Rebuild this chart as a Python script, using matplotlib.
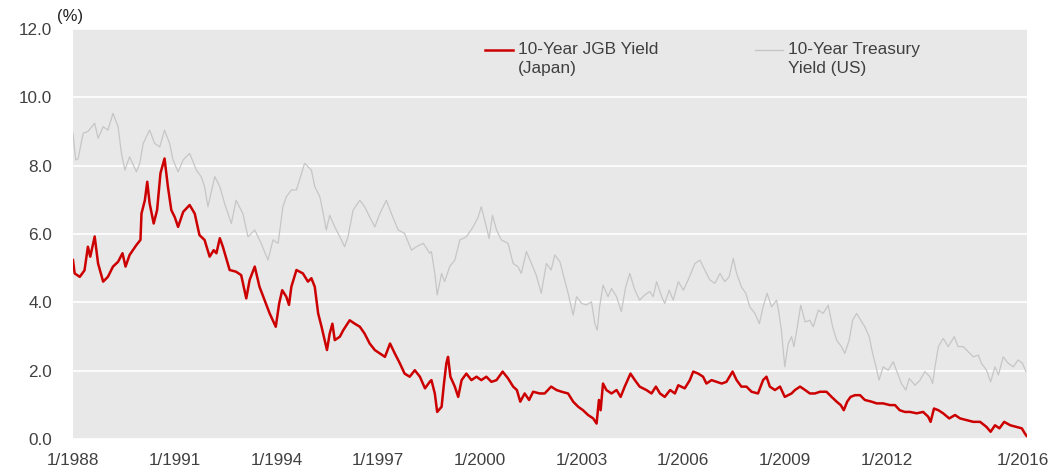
import matplotlib
matplotlib.use('Agg')
import matplotlib.pyplot as plt

# ── data (decimal year, yield in %) ──
jgb_year = [
    1988.00, 1988.05, 1988.20, 1988.34, 1988.44, 1988.51, 1988.64, 1988.74, 1988.89,
    1989.03, 1989.18, 1989.33, 1989.46, 1989.55, 1989.67, 1989.87, 1989.99,
    1990.02, 1990.12, 1990.19, 1990.26, 1990.38, 1990.48, 1990.58, 1990.70, 1990.80, 1990.90,
    1991.00, 1991.10, 1991.25, 1991.44, 1991.59, 1991.73, 1991.88,
    1992.03, 1992.15, 1992.23, 1992.33, 1992.42, 1992.62, 1992.81, 1992.96,
    1993.11, 1993.21, 1993.36, 1993.50, 1993.65, 1993.80, 1993.98,
    1994.08, 1994.17, 1994.29, 1994.37, 1994.44, 1994.59, 1994.78, 1994.93,
    1995.03, 1995.13, 1995.23, 1995.33, 1995.42, 1995.49, 1995.57, 1995.65, 1995.72, 1995.87, 1995.97,
    1996.16, 1996.31, 1996.46, 1996.60, 1996.75, 1996.90,
    1997.05, 1997.20, 1997.35, 1997.49, 1997.64, 1997.78, 1997.93,
    1998.08, 1998.23, 1998.38, 1998.52, 1998.57, 1998.67, 1998.74, 1998.87, 1998.94,
    1999.01, 1999.06, 1999.13, 1999.26, 1999.36, 1999.46, 1999.60, 1999.75, 1999.90,
    2000.04, 2000.19, 2000.34, 2000.49, 2000.67, 2000.83, 2000.98,
    2001.09, 2001.19, 2001.32, 2001.45, 2001.57, 2001.76, 2001.91,
    2002.10, 2002.26, 2002.41, 2002.60, 2002.75, 2002.90,
    2003.04, 2003.19, 2003.34, 2003.44, 2003.51, 2003.56, 2003.63, 2003.73, 2003.88,
    2004.03, 2004.15, 2004.27, 2004.44, 2004.57, 2004.71, 2004.91,
    2005.06, 2005.19, 2005.31, 2005.45, 2005.61, 2005.75, 2005.85,
    2006.04, 2006.19, 2006.29, 2006.44, 2006.58, 2006.68, 2006.83, 2006.98,
    2007.13, 2007.27, 2007.45, 2007.57, 2007.71, 2007.86,
    2008.01, 2008.20, 2008.35, 2008.45, 2008.55, 2008.70, 2008.85, 2008.99,
    2009.19, 2009.29, 2009.44, 2009.59, 2009.73, 2009.88,
    2010.03, 2010.22, 2010.37, 2010.52, 2010.64, 2010.73, 2010.83, 2010.93,
    2011.06, 2011.21, 2011.35, 2011.55, 2011.70, 2011.89,
    2012.09, 2012.24, 2012.38, 2012.53, 2012.68, 2012.88,
    2013.07, 2013.22, 2013.29, 2013.39, 2013.52, 2013.66, 2013.84,
    2014.01, 2014.16, 2014.35, 2014.55, 2014.75, 2014.94,
    2015.06, 2015.19, 2015.32, 2015.46, 2015.64, 2015.83, 2015.98,
    2016.07, 2016.12,
]
jgb_yield = [
    5.24, 4.85, 4.75, 4.94, 5.63, 5.34, 5.93, 5.14, 4.61,
    4.75, 5.05, 5.19, 5.44, 5.05, 5.39, 5.68, 5.83,
    6.60, 6.99, 7.53, 6.90, 6.31, 6.70, 7.78, 8.21, 7.38, 6.70,
    6.50, 6.21, 6.65, 6.85, 6.60, 5.97, 5.83,
    5.34, 5.53, 5.44, 5.88, 5.63, 4.95, 4.90, 4.80,
    4.12, 4.66, 5.05, 4.46, 4.07, 3.68, 3.29,
    3.97, 4.36, 4.17, 3.93, 4.46, 4.95, 4.85, 4.61,
    4.71, 4.46, 3.68, 3.29, 2.90, 2.61, 3.09, 3.38, 2.90, 3.00, 3.19,
    3.48, 3.38, 3.29, 3.09, 2.80, 2.61,
    2.51, 2.41, 2.80, 2.51, 2.22, 1.92, 1.83,
    2.02, 1.83, 1.49, 1.68, 1.73, 1.34, 0.80, 0.95, 1.63,
    2.22, 2.41, 1.83, 1.54, 1.24, 1.73, 1.92, 1.73, 1.83,
    1.73, 1.83, 1.68, 1.73, 1.98, 1.78, 1.54,
    1.44, 1.10, 1.34, 1.15, 1.39, 1.34, 1.34,
    1.54, 1.44, 1.39, 1.34, 1.10, 0.95,
    0.85, 0.71, 0.61, 0.46, 1.15, 0.85, 1.63, 1.44, 1.34,
    1.44, 1.24, 1.54, 1.92, 1.73, 1.54, 1.44,
    1.34, 1.54, 1.34, 1.24, 1.44, 1.34, 1.58,
    1.49, 1.73, 1.98, 1.92, 1.83, 1.63, 1.73, 1.68,
    1.63, 1.68, 1.98, 1.73, 1.54, 1.54,
    1.39, 1.34, 1.73, 1.83, 1.54, 1.44, 1.54, 1.24,
    1.34, 1.44, 1.54, 1.44, 1.34, 1.34,
    1.39, 1.39, 1.24, 1.10, 1.00, 0.85, 1.10, 1.24,
    1.29, 1.29, 1.15, 1.10, 1.05, 1.05,
    1.00, 1.00, 0.85, 0.80, 0.80, 0.76,
    0.80, 0.66, 0.51, 0.90, 0.85, 0.76, 0.61,
    0.71, 0.61, 0.56, 0.51, 0.51, 0.36,
    0.22, 0.41, 0.32, 0.51, 0.41, 0.36, 0.32,
    0.17, 0.10,
]

ust_year = [
    1988.00, 1988.08, 1988.15, 1988.30, 1988.44, 1988.64, 1988.74, 1988.89,
    1989.03, 1989.18, 1989.33, 1989.43, 1989.53, 1989.67, 1989.87, 1989.97,
    1990.07, 1990.26, 1990.41, 1990.56, 1990.70, 1990.85, 1990.95,
    1991.10, 1991.25, 1991.44, 1991.64, 1991.78, 1991.88, 1991.98,
    1992.18, 1992.33, 1992.47, 1992.67, 1992.81,
    1993.01, 1993.16, 1993.36, 1993.55, 1993.75, 1993.90,
    1994.05, 1994.19, 1994.29, 1994.44, 1994.59, 1994.68, 1994.83,
    1995.03, 1995.13, 1995.28, 1995.38, 1995.47, 1995.57, 1995.72, 1995.87,
    1996.01, 1996.11, 1996.26, 1996.46, 1996.60, 1996.75, 1996.90,
    1997.05, 1997.24, 1997.39, 1997.59, 1997.78, 1997.98,
    1998.13, 1998.33, 1998.52, 1998.57, 1998.67, 1998.74, 1998.87, 1998.96,
    1999.11, 1999.26, 1999.41, 1999.60, 1999.80, 1999.95,
    2000.04, 2000.19, 2000.27, 2000.37, 2000.49, 2000.63, 2000.83, 2000.98,
    2001.12, 2001.22, 2001.37, 2001.52, 2001.66, 2001.81, 2001.96,
    2002.10, 2002.21, 2002.36, 2002.50, 2002.60, 2002.75, 2002.85,
    2003.00, 2003.14, 2003.29, 2003.39, 2003.46, 2003.53, 2003.63, 2003.78, 2003.88,
    2004.03, 2004.17, 2004.30, 2004.42, 2004.57, 2004.71, 2004.86,
    2005.01, 2005.11, 2005.21, 2005.36, 2005.45, 2005.58, 2005.70, 2005.85,
    2006.00, 2006.14, 2006.34, 2006.49, 2006.63, 2006.78, 2006.93,
    2007.08, 2007.22, 2007.35, 2007.47, 2007.57, 2007.71, 2007.84, 2007.96,
    2008.11, 2008.24, 2008.35, 2008.47, 2008.60, 2008.75, 2008.82, 2008.89, 2008.99,
    2009.09, 2009.19, 2009.26, 2009.36, 2009.46, 2009.59, 2009.73, 2009.83, 2009.98,
    2010.12, 2010.27, 2010.40, 2010.52, 2010.66, 2010.76, 2010.89, 2010.99,
    2011.11, 2011.23, 2011.35, 2011.48, 2011.58, 2011.68, 2011.77, 2011.89,
    2012.04, 2012.19, 2012.28, 2012.43, 2012.56, 2012.66, 2012.83, 2012.98,
    2013.12, 2013.27, 2013.35, 2013.42, 2013.52, 2013.66, 2013.81, 2013.99,
    2014.10, 2014.25, 2014.40, 2014.55, 2014.70, 2014.79, 2014.94,
    2015.06, 2015.19, 2015.29, 2015.43, 2015.58, 2015.73, 2015.87, 2016.00,
    2016.10,
]
ust_yield = [
    8.95, 8.17, 8.20, 8.95, 9.00, 9.24, 8.80, 9.14,
    9.04, 9.53, 9.14, 8.36, 7.87, 8.26, 7.82, 8.07,
    8.65, 9.04, 8.65, 8.55, 9.04, 8.65, 8.17,
    7.82, 8.17, 8.36, 7.87, 7.68, 7.39, 6.80,
    7.68, 7.39, 6.90, 6.31, 6.99,
    6.60, 5.92, 6.12, 5.73, 5.24, 5.83,
    5.73, 6.80, 7.09, 7.29, 7.29, 7.58, 8.07,
    7.87, 7.39, 7.09, 6.60, 6.12, 6.55, 6.21, 5.92,
    5.63, 5.92, 6.70, 6.99, 6.80, 6.50, 6.21,
    6.60, 6.99, 6.60, 6.12, 6.02, 5.53,
    5.63, 5.73, 5.44, 5.49, 4.85, 4.22, 4.85, 4.61,
    5.05, 5.24, 5.83, 5.92, 6.21, 6.50,
    6.80, 6.21, 5.87, 6.55, 6.12, 5.83, 5.73, 5.14,
    5.05, 4.85, 5.49, 5.14, 4.80, 4.27, 5.14,
    4.95, 5.39, 5.19, 4.66, 4.27, 3.63, 4.17,
    3.97, 3.93, 4.02, 3.38, 3.19, 3.87, 4.51, 4.17, 4.41,
    4.17, 3.73, 4.46, 4.85, 4.36, 4.07, 4.22,
    4.32, 4.17, 4.61, 4.17, 3.97, 4.36, 4.07, 4.61,
    4.36, 4.66, 5.14, 5.24, 4.95, 4.66, 4.56,
    4.85, 4.61, 4.75, 5.29, 4.85, 4.46, 4.27, 3.87,
    3.68, 3.38, 3.87, 4.27, 3.87, 4.07, 3.68, 3.19, 2.12,
    2.80, 3.00, 2.71, 3.29, 3.92, 3.43, 3.48, 3.29, 3.78,
    3.68, 3.92, 3.29, 2.90, 2.71, 2.51, 2.90, 3.48,
    3.68, 3.48, 3.29, 3.00, 2.51, 2.12, 1.73, 2.12,
    2.02, 2.27, 2.02, 1.63, 1.44, 1.78, 1.58, 1.73,
    1.98, 1.83, 1.63, 2.12, 2.71, 2.95, 2.71, 3.00,
    2.71, 2.71, 2.56, 2.41, 2.46, 2.22, 2.02,
    1.68, 2.12, 1.88, 2.41, 2.22, 2.12, 2.32, 2.22,
    1.98,
]

tick_years = [1988, 1991, 1994, 1997, 2000, 2003, 2006, 2009, 2012, 2016]
tick_labels = [f'1/{y}' for y in tick_years]
y_ticks = [0, 2, 4, 6, 8, 10, 12]

RED = '#cc0000'
GREY = '#c6c6c6'
TXT = '#404040'

plt.rcParams['font.family'] = ['Liberation Sans', 'DejaVu Sans']

fig = plt.figure(figsize=(10.5, 4.72), dpi=100)
ax = fig.add_axes([0.0695, 0.0693, 0.9085, 0.8695])
ax.set_facecolor('#e8e8e8')

ax.plot(ust_year, ust_yield, color=GREY, lw=0.9)
ax.plot(jgb_year, jgb_yield, color=RED, lw=1.8)

ax.set_xlim(1988, 2016.13)
ax.set_ylim(0, 12)
ax.set_xticks(tick_years)
ax.set_xticklabels(tick_labels)
ax.set_yticks(y_ticks)
ax.set_yticklabels([f'{v:.1f}' for v in y_ticks])
ax.tick_params(length=0, labelsize=12.3, colors=TXT)
ax.tick_params(axis='y', pad=15)
ax.tick_params(axis='x', pad=10)
ax.grid(axis='y', color='white', lw=1.2)
ax.set_axisbelow(True)
for s in ax.spines.values():
    s.set_visible(False)

ax.text(-0.017, 1.012, '(%)', transform=ax.transAxes, fontsize=12, color='#222222',
        ha='left', va='bottom')

# legend drawn by hand (handle aligned with first text line)
leg_y = 0.9486
ax.plot([0.432, 0.461], [leg_y, leg_y], transform=ax.transAxes, color=RED, lw=1.8,
        clip_on=False)
ax.text(0.4665, 0.9669, '10-Year JGB Yield\n(Japan)', transform=ax.transAxes,
        fontsize=12.4, color=TXT, ha='left', va='top', linespacing=1.27)
ax.plot([0.715, 0.744], [leg_y, leg_y], transform=ax.transAxes, color=GREY, lw=1.0,
        clip_on=False)
ax.text(0.7495, 0.9669, '10-Year Treasury\nYield (US)', transform=ax.transAxes,
        fontsize=12.4, color=TXT, ha='left', va='top', linespacing=1.27)

fig.savefig('out.png', dpi=100, facecolor='white')
